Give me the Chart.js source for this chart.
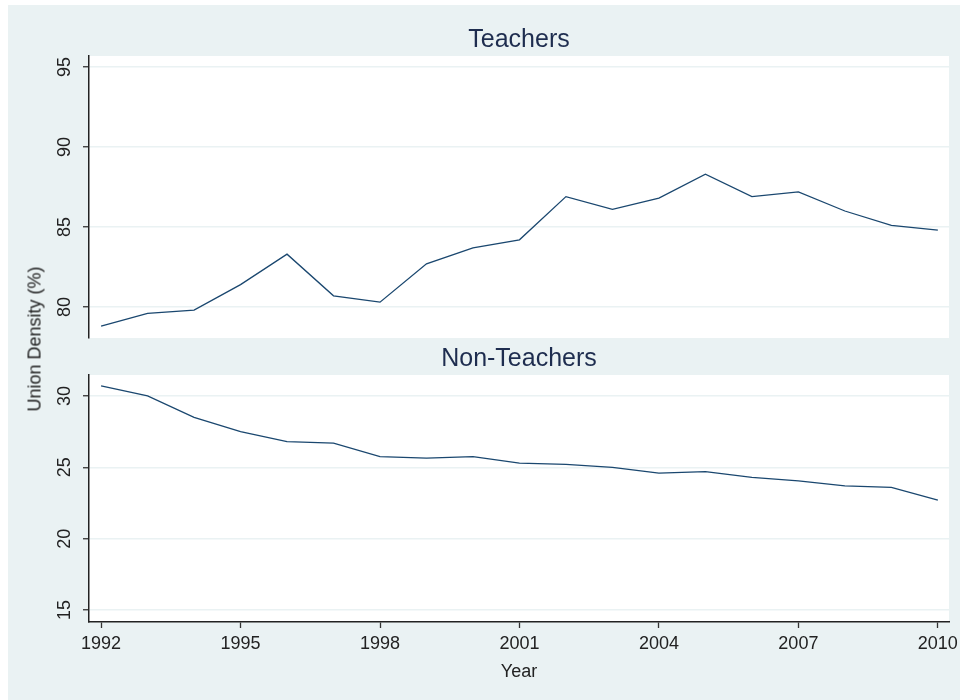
<!DOCTYPE html>
<html>
<head>
<meta charset="utf-8">
<script src="https://cdn.jsdelivr.net/npm/chart.js@4.4.1/dist/chart.umd.min.js"></script>
<style>
body{margin:0;background:#fff;width:960px;height:700px;position:relative;overflow:hidden;font-family:"Liberation Sans",Arial,sans-serif}
#bg{position:absolute;left:8px;top:5px;width:952px;height:695px;background:#eaf2f3}
canvas{position:absolute;left:0}
#c1{top:0}
#c2{top:340px}
#ylab{position:absolute;left:35px;top:339px;transform:translate(-50%,-50%) rotate(-90deg);font-size:18px;color:#222;white-space:nowrap}
</style>
</head>
<body>
<div id="bg"></div>
<canvas id="c1" width="960" height="340"></canvas>
<canvas id="c2" width="960" height="360"></canvas>
<div id="ylab">Union Density (%)</div>
<script>
const years = [1992,1993,1994,1995,1996,1997,1998,1999,2000,2001,2002,2003,2004,2005,2006,2007,2008,2009,2010];
const teachers = [78.8,79.6,79.8,81.4,83.3,80.7,80.3,82.7,83.7,84.2,86.9,86.1,86.8,88.3,86.9,87.2,86.0,85.1,84.8];
const nonTeachers = [30.7,30.0,28.5,27.5,26.8,26.7,25.75,25.65,25.75,25.3,25.2,25.0,24.6,24.7,24.3,24.05,23.7,23.6,22.7];
const xTicks = [1992,1995,1998,2001,2004,2007,2010];
const teacherTicks = [80,85,90,95];
const nonTeacherTicks = [15,20,25,30];

const lineColor = '#1a476f';
const font = '"Liberation Sans", Arial, sans-serif';

// white plot region, panel title and rotated y tick labels
function panelPlugin(title, baseline) {
    return {
        id: 'panel',
        beforeDraw(chart) {
            const a = chart.chartArea, ctx = chart.ctx;
            ctx.save();
            ctx.fillStyle = '#fff';
            ctx.fillRect(a.left, a.top, a.right - a.left, a.bottom - a.top);
            ctx.restore();
        },
        afterDraw(chart) {
            const a = chart.chartArea, ctx = chart.ctx, y = chart.scales.y;
            ctx.save();
            ctx.fillStyle = '#1e2d4f';
            ctx.font = '25px ' + font;
            ctx.textAlign = 'center';
            ctx.textBaseline = 'alphabetic';
            ctx.fillText(title, (a.left + a.right) / 2, baseline);
            ctx.fillStyle = '#222';
            ctx.font = '18px ' + font;
            ctx.textBaseline = 'middle';
            y.ticks.forEach(t => {
                ctx.save();
                ctx.translate(65.5, y.getPixelForValue(t.value));
                ctx.rotate(-Math.PI / 2);
                ctx.fillText(String(t.value), 0, 0);
                ctx.restore();
            });
            ctx.restore();
        }
    };
}

function makeChart(id, values, ticks, yMin, yMax, title, baseline, showX) {
    return new Chart(document.getElementById(id), {
        type: 'line',
        data: {
            datasets: [{
                data: years.map((yr, i) => ({x: yr, y: values[i]})),
                borderColor: lineColor,
                borderWidth: 1.3,
                pointRadius: 0,
                tension: 0
            }]
        },
        options: {
            responsive: false,
            animation: false,
            layout: {padding: {left: 0, right: 11, top: showX ? 35 : 56, bottom: showX ? 0 : 2}},
            plugins: {legend: {display: false}, tooltip: {enabled: false}},
            scales: {
                x: {
                    type: 'linear',
                    display: showX,
                    min: 1991.74,
                    max: 2010.24,
                    afterBuildTicks: s => { s.ticks = xTicks.map(v => ({value: v})); },
                    afterFit: s => {
                        s.height = showX ? 78 : 0;
                        s.paddingLeft = 0;
                        s.paddingRight = 0;
                    },
                    grid: {drawOnChartArea: false, tickLength: 6, tickColor: '#333', tickWidth: 1.3},
                    border: {color: '#222', width: 1.5},
                    ticks: {
                        padding: 5,
                        color: '#222',
                        font: {family: font, size: 18},
                        maxRotation: 0,
                        callback: v => String(v)
                    },
                    title: {
                        display: true,
                        text: 'Year',
                        color: '#222',
                        font: {family: font, size: 18},
                        padding: {top: 0, bottom: 17}
                    }
                },
                y: {
                    min: yMin,
                    max: yMax,
                    afterBuildTicks: s => { s.ticks = ticks.map(v => ({value: v})); },
                    afterFit: s => {
                        s.width = 89;
                        s.paddingTop = 0;
                        s.paddingBottom = 0;
                    },
                    grid: {color: '#eaf2f3', lineWidth: 1.5, tickLength: 6, tickColor: '#333', tickWidth: 1.3},
                    border: {color: '#222', width: 1.5},
                    ticks: {display: false}
                }
            }
        },
        plugins: [panelPlugin(title, baseline)]
    });
}

makeChart('c1', teachers, teacherTicks, 78.06, 95.69, 'Teachers', 47, false);
makeChart('c2', nonTeachers, nonTeacherTicks, 14.16, 31.47, 'Non-Teachers', 26, true);
</script>
</body>
</html>
